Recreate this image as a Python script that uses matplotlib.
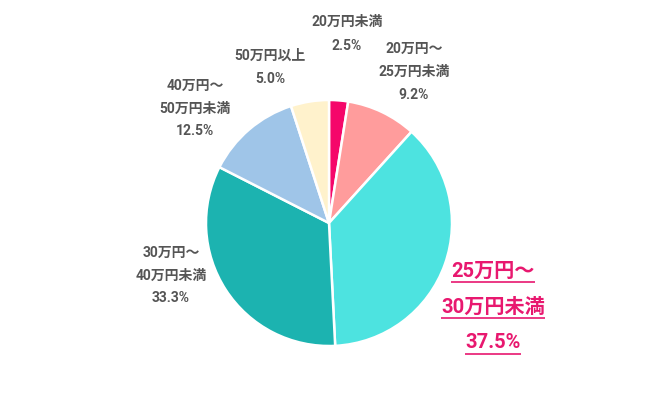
import matplotlib
matplotlib.use("Agg")
import matplotlib.pyplot as plt

plt.rcParams['font.family'] = ['Roboto', 'Noto Sans CJK JP', 'DejaVu Sans']

# データ（12時の位置から時計回り）
categories = ["20万円未満", "20万円～\n25万円未満", "25万円～\n30万円未満",
              "30万円～\n40万円未満", "40万円～\n50万円未満", "50万円以上"]
shares = [2.5, 9.2, 37.5, 33.3, 12.5, 5.0]
colors = ["#F5076A", "#FF9C9C", "#4DE3E0", "#1CB3B0", "#9FC5E8", "#FFF2CC"]

W, H = 650, 398
fig = plt.figure(figsize=(W / 100, H / 100), dpi=100)
ax = fig.add_axes([0, 0, 1, 1])

cx, cy, r = 329, H - 223, 123
ax.pie(shares, colors=colors, startangle=90, counterclock=False,
       center=(cx, cy), radius=r, frame=True,
       wedgeprops=dict(edgecolor="white", linewidth=1.8))
ax.set_xlim(0, W)
ax.set_ylim(0, H)
ax.set_aspect("equal")
ax.axis("off")

gray = "#555555"
pink = "#E8186F"

# ラベル位置（画素、上から）
label_pos = [(347, 22), (414, 49), None, (171, 253), (195, 86), (270, 56)]
line_gap = [24, 23, None, 22.5, 22.5, 23]

for i, (cat, val) in enumerate(zip(categories, shares)):
    if label_pos[i] is None:
        continue
    lines = cat.split("\n") + [f"{val:.1f}%"]
    x, y0 = label_pos[i]
    for k, s in enumerate(lines):
        ax.text(x, H - (y0 + k * line_gap[i]), s, ha="center", va="center",
                fontsize=10, fontweight="bold", color=gray)

# 最大項目は強調（下線付き）
big_lines = categories[2].split("\n") + [f"{shares[2]:.1f}%"]
big_texts = []
for k, s in enumerate(big_lines):
    t = ax.text(493, H - (271 + k * 36), s, ha="center", va="center",
                fontsize=14.5, fontweight="bold", color=pink)
    big_texts.append(t)

fig.canvas.draw()
renderer = fig.canvas.get_renderer()
inv = ax.transData.inverted()
for t in big_texts:
    bb = t.get_window_extent(renderer)
    (x0, y0), (x1, y1) = inv.transform([(bb.x0, bb.y0), (bb.x1, bb.y1)])
    ax.plot([x0, x1], [y0 - 1.5, y0 - 1.5], color=pink, linewidth=1.2,
            solid_capstyle="butt")

fig.savefig("out.png", dpi=100, facecolor="white")
